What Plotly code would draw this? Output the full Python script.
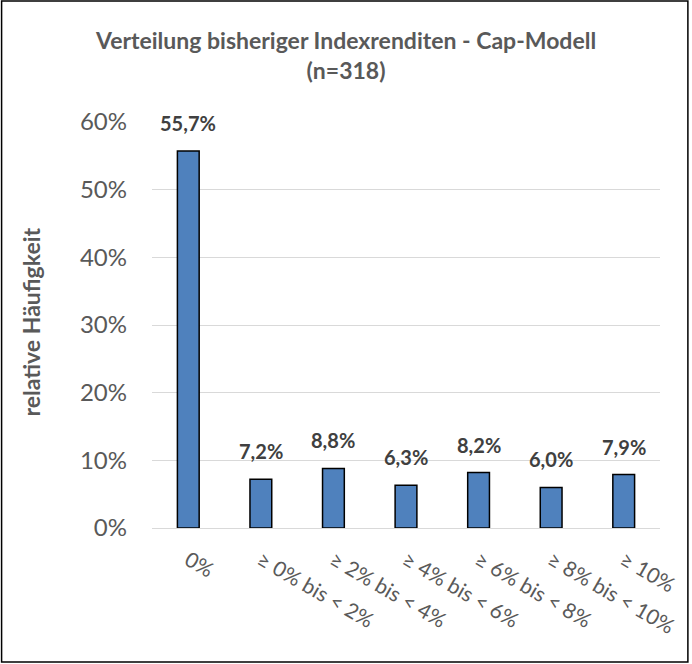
import plotly.graph_objects as go

categories = ["0%", "≥ 0% bis < 2%", "≥ 2% bis < 4%", "≥ 4% bis < 6%",
              "≥ 6% bis < 8%", "≥ 8% bis < 10%", "≥ 10%"]
values = [0.557, 0.072, 0.088, 0.063, 0.082, 0.060, 0.079]
labels = ["55,7%", "7,2%", "8,8%", "6,3%", "8,2%", "6,0%", "7,9%"]
y_ticks = [0, 0.1, 0.2, 0.3, 0.4, 0.5, 0.6]
y_tick_text = ["0%", "10%", "20%", "30%", "40%", "50%", "60%"]

W, H = 692, 664
L, R, T, B = 152, 30, 122, 136
pw, ph = W - L - R, H - T - B

FONT = "Lato"
GRAY = "#595959"

fig = go.Figure()
fig.add_trace(go.Bar(
    x=categories, y=values,
    marker=dict(color="#4F81BD", line=dict(color="black", width=1.5)),
    width=0.3,
    hoverinfo="skip",
))

annotations = []
for c, v, t in zip(categories, values, labels):
    annotations.append(dict(
        x=c, y=v, xref="x", yref="y", text="<b>%s</b>" % t,
        showarrow=False, yanchor="bottom", yshift=14,
        font=dict(family=FONT, size=20, color="#404040"),
    ))
annotations.append(dict(
    x=(31 - L) / pw, y=(H - B - 322) / ph, xref="paper", yref="paper",
    text="<b>relative Häufigkeit</b>", textangle=-90, showarrow=False,
    xanchor="center", yanchor="middle",
    font=dict(family=FONT, size=23, color=GRAY),
))
annotations.append(dict(
    x=(346 - L) / pw, y=(H - B - 55) / ph, xref="paper", yref="paper",
    text="<b>Verteilung bisheriger Indexrenditen - Cap-Modell<br>(n=318)</b>",
    showarrow=False, xanchor="center", yanchor="middle", align="center",
    font=dict(family=FONT, size=23, color=GRAY),
))

fig.update_layout(
    width=W, height=H,
    margin=dict(l=L, r=R, t=T, b=B, pad=0),
    paper_bgcolor="white", plot_bgcolor="white",
    showlegend=False,
    bargap=0.7,
    annotations=annotations,
    shapes=[dict(
        type="rect", xref="paper", yref="paper",
        x0=(1 - L) / pw, x1=(690 - L) / pw,
        y0=(H - B - 662) / ph, y1=(H - B - 1) / ph,
        line=dict(color="black", width=1.5), fillcolor="rgba(0,0,0,0)",
        layer="below",
    )],
)
fig.update_yaxes(
    range=[0, 0.6], tickvals=y_ticks, ticktext=y_tick_text,
    showgrid=True, gridcolor="#d9d9d9", gridwidth=1,
    zeroline=True, zerolinecolor="#d9d9d9", zerolinewidth=1,
    showline=False, ticks="", ticklabelstandoff=24,
    tickfont=dict(family=FONT, size=24, color=GRAY),
)
fig.update_xaxes(
    tickangle=30, showgrid=False, showline=True, linecolor="#d9d9d9",
    ticks="", ticklabelstandoff=11,
    tickfont=dict(family=FONT, size=21, color=GRAY),
)

fig.write_html(
    "out.html",
    config={"displayModeBar": False},
    post_script="document.body.style.margin='0';document.body.style.overflow='hidden';",
)
